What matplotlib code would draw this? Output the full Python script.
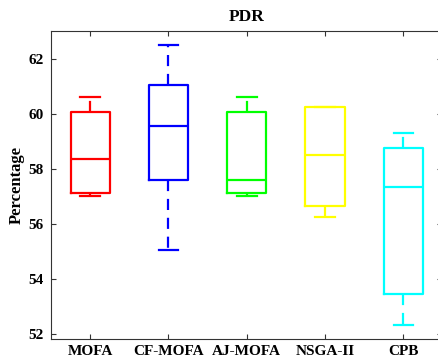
import matplotlib.pyplot as plt

# PDR results per algorithm (box statistics)
algos = ['MOFA', 'CF-MOFA', 'AJ-MOFA', 'NSGA-II', 'CPB']
colors = ['#ff0000', '#0000ff', '#00ff00', '#ffff00', '#00ffff']
whislo = [57.03, 55.04, 57.02, 56.25, 52.33]
q1 = [57.13, 57.61, 57.13, 56.65, 53.46]
med = [58.34, 59.54, 57.58, 58.49, 57.33]
q3 = [60.07, 61.04, 60.05, 60.25, 58.74]
whishi = [60.59, 62.51, 60.59, 60.25, 59.30]

plt.rcParams['font.family'] = 'Liberation Serif'
plt.rcParams['font.weight'] = 'bold'

fig = plt.figure(figsize=(4.39, 3.62), dpi=100)
ax = fig.add_axes([51 / 439, 23 / 362, 391.5 / 439, 308 / 362])

for i in range(len(algos)):
    st = [{'whislo': whislo[i], 'q1': q1[i], 'med': med[i], 'q3': q3[i],
           'whishi': whishi[i], 'fliers': []}]
    c = colors[i]
    ax.bxp(st, positions=[i + 1], widths=0.5, showfliers=False,
           boxprops=dict(color=c, lw=1.6),
           medianprops=dict(color=c, lw=1.6),
           whiskerprops=dict(color=c, lw=1.6, linestyle=(0, (5, 3.5))),
           capprops=dict(color=c, lw=1.6),
           capwidths=0.25)

ax.set_xlim(0.5, 5.5)
ax.set_ylim(51.83, 63)
ax.set_xticks(range(1, 6))
ax.set_xticklabels(algos, fontsize=11, fontweight='bold')
ax.set_yticks([52, 54, 56, 58, 60, 62])
ax.tick_params(axis='y', labelsize=11, pad=5)
ax.tick_params(axis='x', pad=4)
ax.tick_params(direction='in', length=3.5, top=True, right=True, color='#333333')
for s in ax.spines.values():
    s.set_color('#333333')
    s.set_linewidth(0.8)

ax.set_ylabel('Percentage', fontsize=12, fontweight='bold', labelpad=3)
ax.set_title('PDR', fontsize=12.5, fontweight='bold', pad=7)

fig.savefig('out.png', dpi=100)
